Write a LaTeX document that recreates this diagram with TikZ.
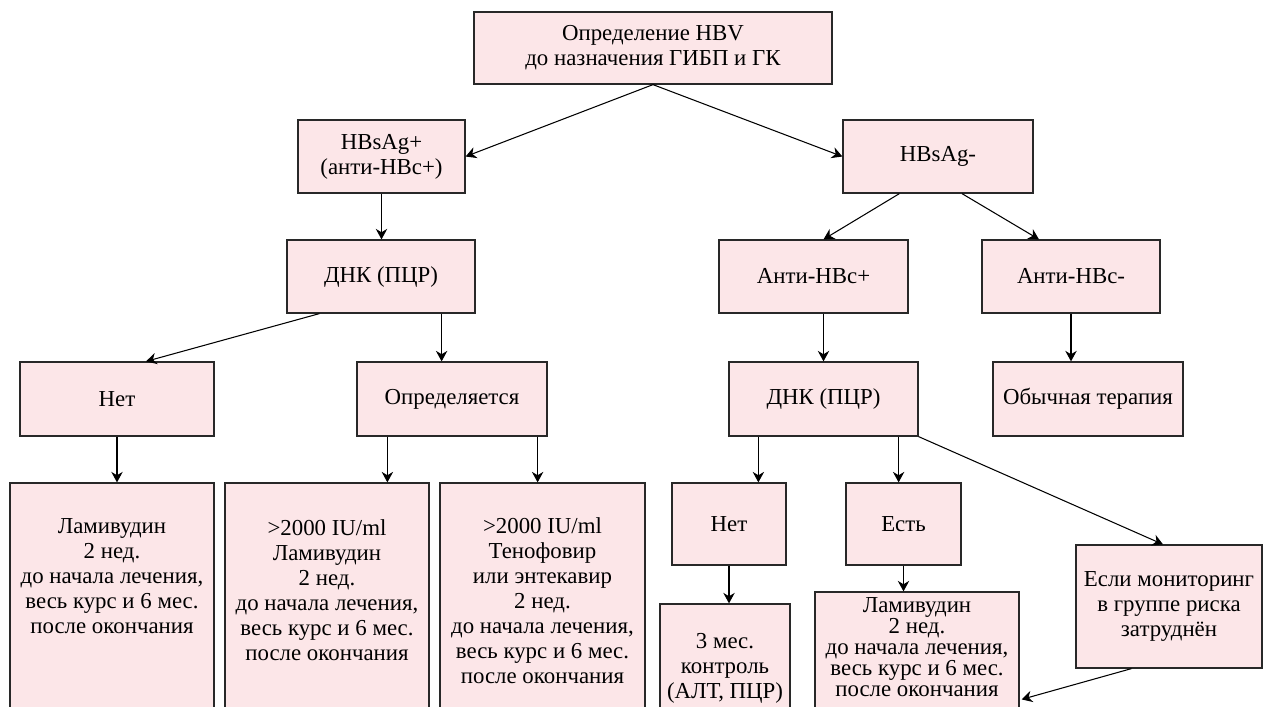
\documentclass[tikz,border=0pt]{standalone}
\usepackage{fontspec}
\setmainfont{Liberation Serif}
\usepackage{xcolor}
\usepackage{tikz}
\usetikzlibrary{arrows.meta, positioning, calc}

\definecolor{boxpink}{RGB}{252,230,232}
\definecolor{boxline}{RGB}{40,40,40}

\begin{document}
\begin{tikzpicture}[
      x=0.2mm, y=-0.2mm,
      box/.style={draw=boxline, line width=0.7pt, fill=boxpink, align=center, inner sep=0pt,
        font=\fontsize{13}{14.2}\selectfont},
      txt/.style={align=center, inner sep=0pt, font=\fontsize{13}{14.2}\selectfont},
      arr/.style={-{Stealth[length=6pt,width=6.5pt]}, line width=0.6pt}
    ]
      \useasboundingbox (0,0) rectangle (1263,706);
      \clip (0,0) rectangle (1263,706);

      % top level
      \node[box, minimum width=7.16cm, minimum height=1.44cm] (top) at (653,48)
        {Определение HBV\\ до назначения ГИБП и ГК};
      \node[box, minimum width=3.34cm, minimum height=1.46cm] (hbp) at (381.5,156.5)
        {HBsAg+\\(анти-HBc+)};
      \node[box, minimum width=3.80cm, minimum height=1.46cm] (hbn) at (938,156.5) {HBsAg-};

      % second level
      \node[box, minimum width=3.76cm, minimum height=1.46cm] (dnaL) at (381,276.5) {ДНК (ПЦР)};
      \node[box, minimum width=3.78cm, minimum height=1.46cm] (antiP) at (813.5,276.5) {Анти-HBc+};
      \node[box, minimum width=3.56cm, minimum height=1.46cm] (antiN) at (1071,276.5) {Анти-HBc-};

      \node[box, minimum width=3.88cm, minimum height=1.48cm] (noL) at (117,399) {Нет};
      \node[box, minimum width=3.80cm, minimum height=1.48cm] (opr) at (452,399) {Определяется};
      \node[box, minimum width=3.78cm, minimum height=1.48cm] (dnaR) at (823.5,399) {ДНК (ПЦР)};
      \node[box, minimum width=3.80cm, minimum height=1.48cm] (usual) at (1088,399) {Обычная терапия};

      % therapy boxes, cut at the bottom
      \node[box, minimum width=4.08cm, minimum height=4.80cm] (lamL) at (112,603) {};
      \node[box, minimum width=4.08cm, minimum height=4.80cm] (hiL) at (327,603) {};
      \node[box, minimum width=4.10cm, minimum height=4.80cm] (hiR) at (542.5,603) {};
      \node[txt] (lamLt) at (112,576)
        {Ламивудин\\2 нед.\\до начала лечения,\\весь курс и 6 мес.\\после окончания};
      \node[txt] (hiLt) at (327,590)
        {>2000 IU/ml\\Ламивудин\\2 нед.\\до начала лечения,\\весь курс и 6 мес.\\после окончания};
      \node[txt] (hiRt) at (542.5,601)
        {>2000 IU/ml\\Тенофовир\\или энтекавир\\2 нед.\\до начала лечения,\\весь курс и 6 мес.\\после окончания};

      \node[box, minimum width=2.28cm, minimum height=1.64cm] (noR) at (729,524) {Нет};
      \node[box, minimum width=2.30cm, minimum height=1.64cm] (est) at (903.5,524) {Есть};
      \node[box, minimum width=2.60cm, minimum height=2.40cm] (three) at (725,664) {};
      \node[txt] (threet) at (725,668) {3 мес.\\контроль\\(АЛТ, ПЦР)};
      \node[box, minimum width=4.08cm, minimum height=2.64cm] (lamR) at (917,658) {};
      \node[txt, font=\fontsize{13}{12}\selectfont] (lamRt) at (917,647)
        {Ламивудин\\2 нед.\\до начала лечения,\\весь курс и 6 мес.\\после окончания};
      \node[box, minimum width=3.72cm, minimum height=2.46cm] (ifm) at (1169,606.5)
        {Если мониторинг\\в группе риска\\затруднён};

      % connectors
      \draw[arr] (top.south) -- (hbp.east);
      \draw[arr] (top.south) -- (hbn.west);
      \draw[arr] (hbp.south) -- (hbp.south |- dnaL.north);
      \draw[arr] ($(hbn.south west)+(57,0)$) -- ($(antiP.north)+(10,0)$);
      \draw[arr] ($(hbn.south)+(24,0)$) -- ($(antiN.north)+(-32,0)$);
      \draw[arr] (dnaR.north |- antiP.south) -- (dnaR.north);
      \draw[arr] (antiN.south) -- (antiN.south |- usual.north);

      \coordinate (dnaLa) at ($(dnaL.south east)+(-34,0)$);
      \coordinate (oprA) at ($(opr.south west)+(31,0)$);
      \coordinate (oprB) at ($(opr.south east)+(-10,0)$);
      \draw[arr] ($(dnaL.south west)+(33,0)$) -- ($(noL.north)+(29,0)$);
      \draw[arr] (dnaLa) -- (dnaLa |- opr.north);
      \draw[arr] (noL.south) -- (noL.south |- lamL.north);
      \draw[arr] (oprA) -- (oprA |- hiL.north);
      \draw[arr] (oprB) -- (oprB |- hiR.north);

      \coordinate (dnaRa) at ($(dnaR.south west)+(30,0)$);
      \coordinate (dnaRb) at ($(dnaR.south east)+(-20,0)$);
      \draw[arr] (dnaRa) -- (dnaRa |- noR.north);
      \draw[arr] (dnaRb) -- (dnaRb |- est.north);
      \draw[arr] (dnaR.south east) -- ($(ifm.north)+(-6,0)$);
      \draw[arr] (noR.south) -- (noR.south |- three.north);
      \draw[arr] (est.south) -- (est.south |- lamR.north);
      \draw[arr] ($(ifm.south west)+(56,0)$) -- ($(lamR.north east)+(2,108)$);
    \end{tikzpicture}
\end{document}
